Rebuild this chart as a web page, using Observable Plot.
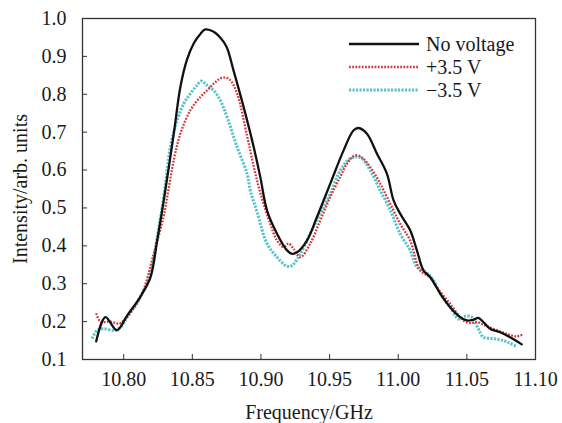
<!DOCTYPE html>
<html>
<head>
<meta charset="utf-8">
<script src="https://cdn.jsdelivr.net/npm/d3@7"></script>
<script src="https://cdn.jsdelivr.net/npm/@observablehq/plot@0.6"></script>
<style>
  html, body { margin: 0; padding: 0; background: #fff; }
  #wrap { position: relative; width: 562px; height: 423px; overflow: hidden; background: #fff; }
  #legend { position: absolute; left: 0; top: 0; }
  #chart svg text { font-family: 'Liberation Serif', 'Times New Roman', serif; }
</style>
</head>
<body>
<div id="wrap"><div id="chart"></div>
<svg id="legend" width="562" height="423"></svg></div>
<script>
// ---- data ----
const seriesNames = ["No voltage", "+3.5 V", "\u22123.5 V"];
const seriesColors = ["#111111", "#d2383a", "#58c3ca"];

const freqBlack = [10.780,10.7867,10.795,10.8025,10.812,10.8195,10.8244,10.8292,10.8365,10.8413,10.846,10.851,10.856,10.8595,10.8656,10.870,10.875,10.880,10.8874,10.8947,10.8995,10.9044,10.9117,10.919,10.9226,10.9263,10.9335,10.9408,10.9505,10.9602,10.9675,10.9711,10.9772,10.9845,10.9918,10.9966,11.0014,11.0087,11.0136,11.0184,11.0233,11.0306,11.0378,11.0451,11.050,11.0548,11.0584,11.062,11.0669,11.0742,11.0815,11.090];
const intBlack  = [0.148,0.212,0.177,0.216,0.265,0.317,0.414,0.520,0.696,0.819,0.890,0.934,0.960,0.971,0.965,0.951,0.925,0.863,0.766,0.661,0.582,0.494,0.432,0.388,0.379,0.383,0.414,0.476,0.564,0.652,0.705,0.711,0.696,0.643,0.590,0.520,0.485,0.441,0.388,0.335,0.317,0.274,0.238,0.212,0.203,0.205,0.210,0.199,0.181,0.172,0.159,0.140];

const freqPlus = [10.780,10.7831,10.790,10.797,10.800,10.812,10.8219,10.8292,10.8317,10.8365,10.8413,10.8486,10.8559,10.8607,10.8656,10.870,10.874,10.8777,10.8826,10.8899,10.8947,10.8995,10.9068,10.9117,10.9165,10.9201,10.9238,10.9287,10.9359,10.9432,10.9505,10.9578,10.9627,10.9687,10.9736,10.9796,10.9869,10.9942,11.0014,11.0087,11.016,11.0233,11.028,11.0378,11.0475,11.0524,11.0573,11.062,11.0693,11.079,11.0864,11.0907];
const intPlus  = [0.222,0.200,0.200,0.195,0.203,0.262,0.379,0.480,0.529,0.626,0.696,0.758,0.793,0.810,0.828,0.841,0.844,0.837,0.802,0.690,0.610,0.540,0.458,0.414,0.397,0.406,0.392,0.370,0.406,0.467,0.529,0.582,0.617,0.639,0.633,0.608,0.564,0.511,0.458,0.414,0.335,0.317,0.291,0.247,0.203,0.196,0.199,0.192,0.181,0.168,0.161,0.166];

const freqMinus = [10.777,10.7807,10.7855,10.7928,10.7977,10.8025,10.812,10.8195,10.8244,10.8292,10.834,10.8389,10.8437,10.8486,10.8535,10.8564,10.8607,10.8656,10.8704,10.8753,10.8826,10.8899,10.8923,10.8971,10.9044,10.9117,10.919,10.9226,10.9287,10.9359,10.9432,10.9505,10.9578,10.965,10.9723,10.9796,10.9869,10.9942,11.0014,11.0087,11.0136,11.0209,11.0257,11.0306,11.0378,11.0439,11.0488,11.0536,11.0584,11.062,11.0693,11.0766,11.0815,11.0864];
const intMinus  = [0.155,0.177,0.181,0.177,0.185,0.212,0.265,0.326,0.423,0.529,0.661,0.731,0.775,0.802,0.824,0.835,0.824,0.810,0.784,0.740,0.661,0.590,0.545,0.490,0.406,0.370,0.346,0.348,0.379,0.432,0.485,0.538,0.599,0.630,0.633,0.599,0.546,0.494,0.432,0.388,0.344,0.328,0.309,0.274,0.238,0.207,0.214,0.212,0.181,0.159,0.155,0.150,0.143,0.134];

const xTicks = [10.80, 10.85, 10.90, 10.95, 11.00, 11.05, 11.10];
const yTicks = [0.1, 0.2, 0.3, 0.4, 0.5, 0.6, 0.7, 0.8, 0.9, 1.0];
const xTitle = "Frequency/GHz";
const yTitle = "Intensity/arb. units";

// ---- build rows ----
const toRows = (fs, vs, s) => fs.map((f, i) => ({f, v: vs[i], s}));
const black = toRows(freqBlack, intBlack, seriesNames[0]);
const plus = toRows(freqPlus, intPlus, seriesNames[1]);
const minus = toRows(freqMinus, intMinus, seriesNames[2]);

const font = "Liberation Serif";
const chart = Plot.plot({
  width: 562, height: 423,
  marginLeft: 82, marginRight: 27, marginTop: 18, marginBottom: 64,
  style: {fontFamily: font, fontSize: "20px", color: "#1a1a1a", background: "#fff"},
  x: {domain: [10.77, 11.10]},
  y: {domain: [0.1, 1.0]},
  marks: [
    Plot.axisX({ticks: xTicks, tickFormat: d => d.toFixed(2), tickSize: -5, tickPadding: 17, fontSize: 20,
      fontFamily: font, label: null, stroke: "#333"}),
    Plot.axisY({ticks: yTicks, tickFormat: d => d.toFixed(1), tickSize: -5, tickPadding: 21, fontSize: 20,
      fontFamily: font, label: null, stroke: "#333"}),
    Plot.text([xTitle], {text: d => d, frameAnchor: "bottom", textAnchor: "middle", dy: 53, lineAnchor: "middle", fontSize: 20, fontFamily: font, fill: "#1a1a1a"}),
    Plot.text([yTitle], {text: d => d, frameAnchor: "left", textAnchor: "middle", dx: -62, rotate: -90, lineAnchor: "middle", fontSize: 20, fontFamily: font, fill: "#1a1a1a"}),
    Plot.line(minus, {x: "f", y: "v", stroke: seriesColors[2], strokeWidth: 3, strokeDasharray: "2.2 1.3", strokeLinecap: "butt", curve: "catmull-rom"}),
    Plot.line(plus, {x: "f", y: "v", stroke: seriesColors[1], strokeWidth: 2.3, strokeDasharray: "1.8 1.4", strokeLinecap: "butt", curve: "catmull-rom"}),
    Plot.line(black, {x: "f", y: "v", stroke: seriesColors[0], strokeWidth: 2.3, curve: "catmull-rom"}),
    Plot.frame({stroke: "#333", strokeWidth: 1.3})
  ]
});
document.getElementById("chart").appendChild(chart);

// ---- legend (overlay, inside the plot frame, top right) ----
const lg = d3.select("#legend");
const dashes = [null, "1.8 1.4", "2.2 1.3"];
const widths = [2.3, 2.3, 3];
seriesNames.forEach((name, i) => {
  const y = 44 + i * 23;
  lg.append("line").attr("x1", 349).attr("x2", 419).attr("y1", y).attr("y2", y)
    .attr("stroke", seriesColors[i]).attr("stroke-width", widths[i])
    .attr("stroke-dasharray", dashes[i]);
  lg.append("text").attr("x", 426).attr("y", y + 6.5).text(name)
    .style("font-family", font).style("font-size", "20px").attr("fill", "#1a1a1a");
});
</script>
</body>
</html>
